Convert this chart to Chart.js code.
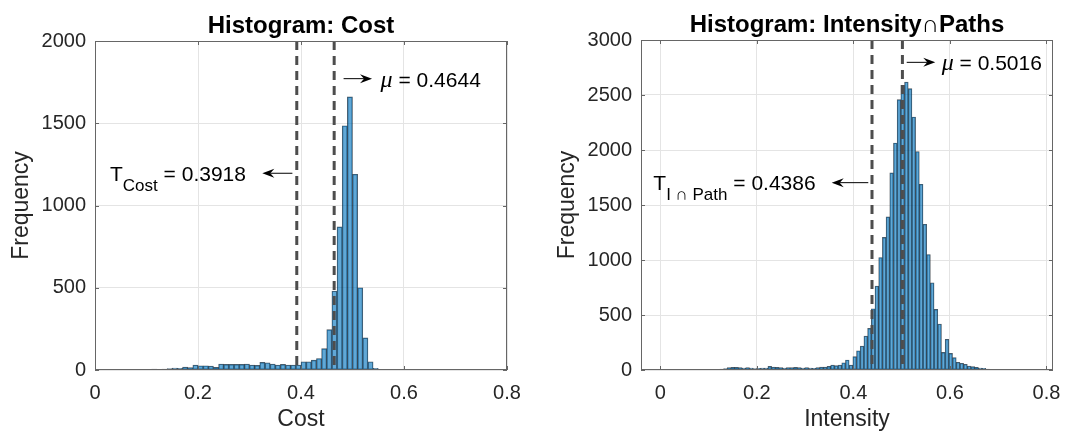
<!DOCTYPE html>
<html>
<head>
<meta charset="utf-8">
<script src="https://cdn.jsdelivr.net/npm/chart.js@4.4.1/dist/chart.umd.min.js"></script>
<style>
  html, body { margin: 0; padding: 0; background: #fff; }
  #wrap { position: relative; width: 1076px; height: 433px; }
  .panel { position: absolute; top: 0; width: 538px; height: 433px; }
</style>
</head>
<body>
<div id="wrap">
  <div class="panel" style="left:0"><canvas id="costChart" width="538" height="433"></canvas></div>
  <div class="panel" style="left:538px"><canvas id="pathChart" width="538" height="433"></canvas></div>
</div>
<script>
// Histograma de coste (bins de 0.01 desde 0.10)
const COST_BIN_START = 0.10;
const COST_BIN_WIDTH = 0.01;
const COST_COUNTS = [
  4, 6, 2, 6, 8, 12, 10, 18, 14, 30,
  26, 26, 24, 16, 36, 34, 34, 34, 34, 36,
  30, 28, 46, 44, 36, 30, 34, 30, 30, 30,
  50, 50, 60, 70, 130, 245, 480, 870, 1485, 1660,
  1190, 500, 195, 50, 10, 3
];
const COST_MEAN = 0.4644;
const COST_THRESHOLD = 0.3918;

// Histograma intensidad ∩ caminos
const PATH_BIN_START = 0.0011;
const PATH_BIN_WIDTH = 0.00765;
const PATH_COUNTS = [
  0, 1, 0, 1, 1, 2, 1, 2,
  3, 3, 4, 4, 5, 5, 6, 7, 9,
  12, 21, 24, 24, 21, 18, 21, 18, 12, 15, 18, 18, 33, 27, 24,
  21, 18, 21, 21, 24, 21, 18, 21, 18, 15, 21, 27, 27, 33, 45,
  40, 45, 66, 91, 45, 121, 175, 218, 309, 378,
  557, 763, 1023, 1205, 1392, 1792, 2064, 2458, 2588, 2618,
  2558, 2300, 1986, 1689, 1325, 1050, 793, 551, 418, 160,
  279, 151, 112, 70, 61, 52, 36, 30, 24, 18, 15, 9, 6, 3, 2
];
const PATH_MEAN = 0.5016;
const PATH_THRESHOLD = 0.4386;

const X_TICKS = [0, 0.2, 0.4, 0.6, 0.8];
const X_TICK_LABELS = ['0', '0.2', '0.4', '0.6', '0.8'];
const COST_Y_TICKS = [0, 500, 1000, 1500, 2000];
const PATH_Y_TICKS = [0, 500, 1000, 1500, 2000, 2500, 3000];

// Estilos
const SANS = '"Liberation Sans", Arial, Helvetica, sans-serif';
const INK = '#262626';
const GRID = '#e4e4e4';
const BOX = '#666666';

const toBins = (start, width, counts) =>
  counts.map((c, k) => ({ x: start + (k + 0.5) * width, y: c }));

function drawArrow(ctx, x0, x1, y) {
  const dir = Math.sign(x1 - x0);
  ctx.strokeStyle = '#000';
  ctx.fillStyle = '#000';
  ctx.lineWidth = 1;
  ctx.beginPath();
  ctx.moveTo(x0, y);
  ctx.lineTo(x1 - dir * 8, y);
  ctx.stroke();
  ctx.beginPath();
  ctx.moveTo(x1, y);
  ctx.lineTo(x1 - dir * 12, y - 4.5);
  ctx.lineTo(x1 - dir * 8, y);
  ctx.lineTo(x1 - dir * 12, y + 4.5);
  ctx.closePath();
  ctx.fill();
}

const histDecor = {
  id: 'histDecor',
  afterDatasetsDraw(chart, args, opts) {
    const { ctx, chartArea: a, scales: { x, y } } = chart;
    ctx.save();
    // líneas de umbral y media
    ctx.strokeStyle = '#4d4d4d';
    ctx.lineWidth = 3;
    ctx.setLineDash([9, 6]);
    opts.lines.forEach(v => {
      const px = x.getPixelForValue(v);
      ctx.beginPath();
      ctx.moveTo(px, a.top);
      ctx.lineTo(px, a.bottom);
      ctx.stroke();
    });
    ctx.setLineDash([]);
    // caja y marcas hacia dentro
    ctx.strokeStyle = BOX;
    ctx.lineWidth = 1;
    ctx.strokeRect(a.left + 0.5, a.top + 0.5, a.width - 1, a.height - 1);
    ctx.beginPath();
    X_TICKS.forEach(v => {
      const px = Math.round(x.getPixelForValue(v)) + 0.5;
      ctx.moveTo(px, a.bottom); ctx.lineTo(px, a.bottom - 4);
      ctx.moveTo(px, a.top); ctx.lineTo(px, a.top + 4);
    });
    opts.yTicks.forEach(v => {
      const py = Math.round(y.getPixelForValue(v)) + 0.5;
      ctx.moveTo(a.left, py); ctx.lineTo(a.left + 4, py);
      ctx.moveTo(a.right, py); ctx.lineTo(a.right - 4, py);
    });
    ctx.stroke();
    ctx.restore();
  },
  afterDraw(chart, args, opts) {
    const { ctx, chartArea: a, scales: { x, y } } = chart;
    ctx.save();
    // título
    ctx.fillStyle = '#000';
    ctx.font = 'bold 24px ' + SANS;
    ctx.textAlign = 'center';
    ctx.textBaseline = 'middle';
    ctx.fillText(opts.title, (a.left + a.right) / 2, a.top - 15);
    ctx.textAlign = 'left';
    ctx.textBaseline = 'alphabetic';

    // flecha y etiqueta de la media
    const m = opts.mu;
    const my = y.getPixelForValue(m.y);
    drawArrow(ctx, x.getPixelForValue(m.from), x.getPixelForValue(m.to), my);
    let tx = x.getPixelForValue(m.textX);
    ctx.font = 'italic 24px "Liberation Serif", serif';
    ctx.fillText('μ', tx, my + 8);
    tx += ctx.measureText('μ').width;
    ctx.font = '21px ' + SANS;
    ctx.fillText(' = ' + opts.mean, tx, my + 8);

    // flecha y etiqueta del umbral
    const t = opts.thr;
    const ty = y.getPixelForValue(t.y);
    drawArrow(ctx, x.getPixelForValue(t.from), x.getPixelForValue(t.to), ty);
    let sx = x.getPixelForValue(t.textX);
    ctx.font = '21px ' + SANS;
    ctx.fillText('T', sx, ty + 7.5);
    sx += ctx.measureText('T').width;
    ctx.font = '17px ' + SANS;
    ctx.fillText(t.sub, sx, ty + 17.5);
    sx += ctx.measureText(t.sub).width;
    ctx.font = '21px ' + SANS;
    ctx.fillText(' = ' + opts.threshold, sx, ty + 7.5);
    ctx.restore();
  }
};

function makeHistogram(canvasId, cfg) {
  const ctx = document.getElementById(canvasId).getContext('2d');
  return new Chart(ctx, {
    type: 'bar',
    data: {
      datasets: [{
        data: toBins(cfg.binStart, cfg.binWidth, cfg.counts),
        backgroundColor: 'rgba(0, 114, 189, 0.62)',
        borderColor: 'rgba(10, 20, 30, 0.7)',
        borderWidth: 0.7,
        borderSkipped: false,
        barPercentage: 1,
        categoryPercentage: 1
      }]
    },
    options: {
      responsive: false,
      animation: false,
      layout: { padding: cfg.padding },
      plugins: {
        legend: { display: false },
        tooltip: { enabled: false },
        histDecor: {
          title: cfg.title,
          lines: [cfg.threshold, cfg.mean],
          yTicks: cfg.yTicks,
          mean: String(cfg.mean),
          threshold: String(cfg.threshold),
          mu: cfg.mu,
          thr: cfg.thr
        }
      },
      scales: {
        x: {
          type: 'linear',
          min: cfg.xMin,
          max: cfg.xMax,
          offset: false,
          afterBuildTicks: s => { s.ticks = X_TICKS.map(v => ({ value: v })); },
          afterFit: s => { s.height = 63; },
          grid: { color: GRID, drawTicks: false, offset: false },
          border: { display: false },
          ticks: {
            autoSkip: false,
            maxRotation: 0,
            padding: 11,
            color: INK,
            font: { family: SANS, size: 20 },
            callback: (v, i) => X_TICK_LABELS[i]
          },
          title: {
            display: true,
            text: cfg.xTitle,
            color: INK,
            font: { family: SANS, size: 23 },
            padding: { top: 0, bottom: 0 }
          }
        },
        y: {
          min: 0,
          max: cfg.yTicks[cfg.yTicks.length - 1],
          afterBuildTicks: s => { s.ticks = cfg.yTicks.map(v => ({ value: v })); },
          afterFit: s => { s.width = cfg.yWidth; },
          grid: { color: GRID, drawTicks: false },
          border: { display: false },
          ticks: {
            autoSkip: false,
            padding: 9,
            color: INK,
            font: { family: SANS, size: 20 },
            callback: v => String(v)
          },
          title: {
            display: true,
            text: 'Frequency',
            color: INK,
            font: { family: SANS, size: 23 },
            padding: { top: cfg.yTitlePad, bottom: 0 }
          }
        }
      }
    },
    plugins: [histDecor]
  });
}

makeHistogram('costChart', {
  title: 'Histogram: Cost',
  xTitle: 'Cost',
  binStart: COST_BIN_START,
  binWidth: COST_BIN_WIDTH,
  counts: COST_COUNTS,
  mean: COST_MEAN,
  threshold: COST_THRESHOLD,
  yTicks: COST_Y_TICKS,
  xMin: 0,
  xMax: 0.8,
  yWidth: 95,
  yTitlePad: 8,
  padding: { top: 41, right: 31, bottom: 0, left: 0 },
  mu: { from: 0.4827, to: 0.5379, y: 1771, textX: 0.5546 },
  thr: { from: 0.3833, to: 0.3249, y: 1196, textX: 0.0291, sub: 'Cost' }
});

makeHistogram('pathChart', {
  title: 'Histogram: Intensity\u2229Paths',
  xTitle: 'Intensity',
  binStart: PATH_BIN_START,
  binWidth: PATH_BIN_WIDTH,
  counts: PATH_COUNTS,
  mean: PATH_MEAN,
  threshold: PATH_THRESHOLD,
  yTicks: PATH_Y_TICKS,
  xMin: -0.04,
  xMax: 0.8136,
  yWidth: 103,
  yTitlePad: 16,
  padding: { top: 40, right: 23, bottom: 0, left: 0 },
  mu: { from: 0.5105, to: 0.5697, y: 2797, textX: 0.583 },
  thr: { from: 0.4309, to: 0.3551, y: 1703, textX: -0.0145, sub: 'I \u2229 Path' }
});
</script>
</body>
</html>
